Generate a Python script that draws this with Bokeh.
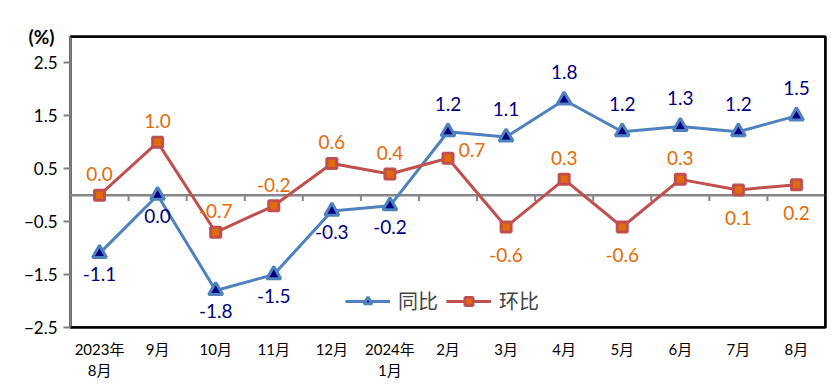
import numpy as np
from bokeh.plotting import figure
from bokeh.models import (ColumnDataSource, Range1d, FixedTicker, Legend, LegendItem, Span)
from bokeh.core.properties import value
from bokeh.embed import file_html
from bokeh.resources import INLINE

months = ["2023年\n8月", "9月", "10月", "11月", "12月", "2024年\n1月", "2月",
          "3月", "4月", "5月", "6月", "7月", "8月"]
yoy = [-1.1, 0.0, -1.8, -1.5, -0.3, -0.2, 1.2, 1.1, 1.8, 1.2, 1.3, 1.2, 1.5]
mom = [0.0, 1.0, -0.7, -0.2, 0.6, 0.4, 0.7, -0.6, 0.3, -0.6, 0.3, 0.1, 0.2]
yoy_place = ["below", "below", "below", "below", "below", "below", "above",
             "above", "above", "above", "above", "above", "above"]
mom_place = ["above", "above", "above", "above", "above", "above", "right",
             "below", "above", "below", "above", "below", "below"]
y_ticks = [-2.5, -1.5, -0.5, 0.5, 1.5, 2.5]
y_min, y_max = -2.5, 3.0

NUM_FONT = "Lato, 'Noto Sans CJK SC'"
BLUE = "#4F81BD"
NAVY = "#000080"
RED = "#C0504D"
ORANGE = "#E36C09"

xs = np.arange(len(months))
x_lo, x_hi = -0.5, len(months) - 0.5

p = figure(frame_width=755, frame_height=291, output_backend="svg",
           toolbar_location=None, x_range=Range1d(x_lo, x_hi),
           y_range=Range1d(y_min, y_max),
           min_border_left=70, min_border_top=36, min_border_right=3,
           min_border_bottom=60)
p.background_fill_color = "white"
p.border_fill_color = "white"
p.xgrid.visible = False
p.ygrid.visible = False
p.outline_line_color = "black"
p.outline_line_width = 2.5

# unit label as title
p.title.text = "(%)"
p.title.align = "left"
p.title.offset = -42
p.title.standoff = -23
p.title.text_font = "Lato"
p.title.text_font_size = "19px"
p.title.text_font_style = "bold"
p.title.text_color = "black"

# frame border lines (top, right, bottom)
for sp in [Span(location=y_max, dimension="width"),
           Span(location=y_min, dimension="width"),
           Span(location=x_hi, dimension="height")]:
    sp.line_color = "black"
    sp.line_width = 2.5
    p.add_layout(sp)

# y axis
p.yaxis.ticker = FixedTicker(ticks=y_ticks)
p.yaxis.axis_line_color = "#808080"
p.yaxis.axis_line_width = 2.5
p.yaxis.major_tick_line_color = "#808080"
p.yaxis.major_tick_line_width = 2
p.yaxis.major_tick_out = 7
p.yaxis.major_tick_in = 0
p.yaxis.minor_tick_line_color = None
p.yaxis.major_label_text_font = NUM_FONT
p.yaxis.major_label_text_font_size = "17px"
p.yaxis.major_label_text_color = "black"
p.yaxis.major_label_standoff = 6

# x axis (labels at bottom)
p.xaxis.ticker = FixedTicker(ticks=list(xs))
p.xaxis.major_label_overrides = {int(i): m for i, m in zip(xs, months)}
p.xaxis.axis_line_color = None
p.xaxis.major_tick_line_color = None
p.xaxis.minor_tick_line_color = None
p.xaxis.major_label_text_font = NUM_FONT
p.xaxis.major_label_text_font_size = "15px"
p.xaxis.major_label_text_color = "black"
p.xaxis.major_label_standoff = 6

# zero line and its ticks at category boundaries
p.line(x=[x_lo, x_hi], y=[0, 0], line_color="#868686", line_width=2.5)
bounds = np.arange(0.5, len(months) - 0.5, 1.0)
p.segment(x0=bounds, y0=np.zeros_like(bounds), x1=bounds,
          y1=np.full_like(bounds, -0.11), line_color="#868686", line_width=2)

# series
r_yoy_line = p.line(xs, yoy, line_color=BLUE, line_width=3)
r_yoy_pts = p.scatter(xs, yoy, marker="triangle", size=14, fill_color=NAVY,
                      line_color=BLUE, line_width=3)
r_mom_line = p.line(xs, mom, line_color=RED, line_width=3)
r_mom_pts = p.scatter(xs, mom, marker="square", size=10, fill_color=ORANGE,
                      line_color=RED, line_width=3)

def offsets(places, above, below, right):
    xo, yo = [], []
    for pl in places:
        if pl == "above":
            xo.append(0); yo.append(above)
        elif pl == "below":
            xo.append(0); yo.append(below)
        else:
            xo.append(right[0]); yo.append(right[1])
    return xo, yo

xo1, yo1 = offsets(yoy_place, -28, 21, (24, -8))
src1 = ColumnDataSource(dict(x=xs, y=yoy, t=[f"{v:.1f}" for v in yoy], xo=xo1, yo=yo1))
p.text(x="x", y="y", text="t", x_offset="xo", y_offset="yo", source=src1,
       text_color=NAVY, text_font=value(NUM_FONT), text_font_size="19px",
       text_align="center", text_baseline="middle")

xo2, yo2 = offsets(mom_place, -21, 28, (24, -8))
src2 = ColumnDataSource(dict(x=xs, y=mom, t=[f"{v:.1f}" for v in mom], xo=xo2, yo=yo2))
p.text(x="x", y="y", text="t", x_offset="xo", y_offset="yo", source=src2,
       text_color=ORANGE, text_font=value(NUM_FONT), text_font_size="19px",
       text_align="center", text_baseline="middle")

legend = Legend(items=[LegendItem(label="同比", renderers=[r_yoy_line, r_yoy_pts]),
                       LegendItem(label="环比", renderers=[r_mom_line, r_mom_pts])],
                orientation="horizontal", location=(275, 12),
                background_fill_alpha=0, border_line_color=None,
                label_text_font="Noto Sans CJK SC", label_text_font_size="20px",
                glyph_width=45, glyph_height=20, spacing=8, label_standoff=8,
                padding=4)
p.add_layout(legend)

open("out.html", "w").write(file_html(p, INLINE))
